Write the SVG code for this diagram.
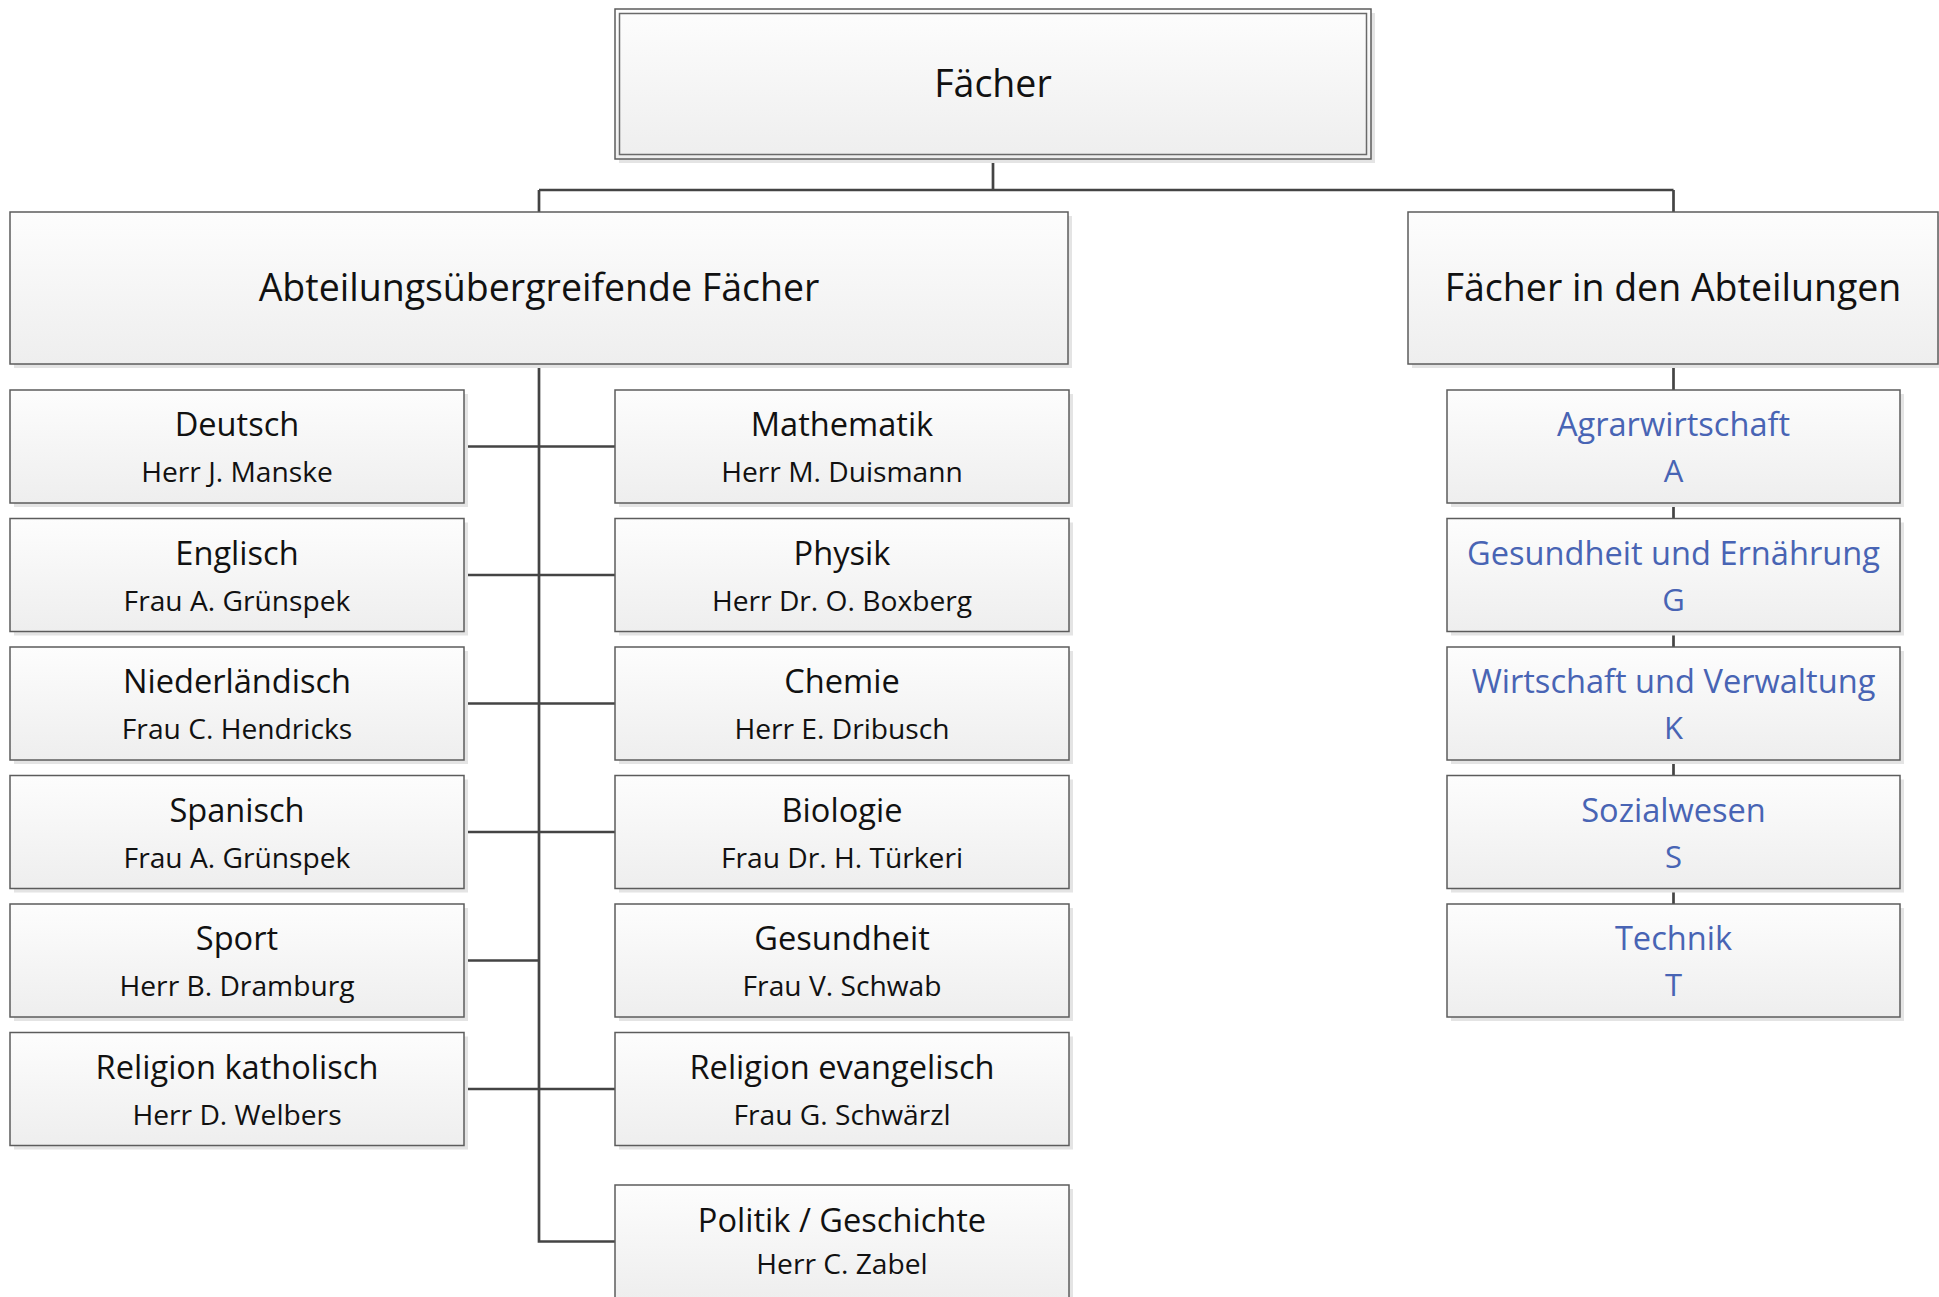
<svg xmlns="http://www.w3.org/2000/svg" width="1939" height="1297" viewBox="0 0 1939 1297">
<defs>
<linearGradient id="g" x1="0" y1="0" x2="0" y2="1">
<stop offset="0" stop-color="#fdfdfd"/>
<stop offset="1" stop-color="#eeeeee"/>
</linearGradient>
</defs>
<style>
.sh{fill:#e4e4e4}
.box{fill:url(#g);stroke:#5c5c5c;stroke-width:1.5}
.dbl{fill:none;stroke:#6a6a6a;stroke-width:1.5}
.c{fill:none;stroke:#444;stroke-width:2.7}
text{font-family:"Open Sans","Noto Sans","DejaVu Sans",sans-serif;text-anchor:middle;fill:#111}
.h{font-size:37.5px}
.t{font-size:32.6px}
.s{font-size:28.2px}
.b{fill:#4864b4}
.bs{font-size:31px}
</style>
<rect width="1939" height="1297" fill="#fff"/>
<g id="connectors">
<path class="c" d="M993 159V190M539 190H1673.5M539 190V212M1673.5 190V212"/>
<path class="c" d="M539 364V1241.5H615"/>
<path class="c" d="M464 446.5H615M464 575H615M464 703.5H615M464 832H615M464 960.5H539M464 1089H615"/>
<path class="c" d="M1673.5 364V390M1673.5 503V518.5M1673.5 631.5V647M1673.5 760V775.5M1673.5 888.5V904"/>
</g>
<g id="faecher">
<rect class="sh" x="619" y="13" width="756" height="150"/>
<rect class="box" x="615" y="9" width="756" height="150"/>
<rect class="dbl" x="619.5" y="13.5" width="747" height="141"/>
<text class="h" x="993" y="97">Fächer</text>
</g>
<g id="abteilungsuebergreifend">
<rect class="sh" x="14" y="216" width="1058" height="152"/>
<rect class="box" x="10" y="212" width="1058" height="152"/>
<text class="h" x="539" y="301">Abteilungsübergreifende Fächer</text>
</g>
<g id="abteilungen">
<rect class="sh" x="1412" y="216" width="530" height="152"/>
<rect class="box" x="1408" y="212" width="530" height="152"/>
<text class="h" x="1673" y="301">Fächer in den Abteilungen</text>
</g>
<g id="deutsch">
<rect class="sh" x="14" y="394" width="454" height="113"/>
<rect class="box" x="10" y="390" width="454" height="113"/>
<text class="t" x="237" y="436">Deutsch</text>
<text class="s" x="237" y="482">Herr J. Manske</text>
</g>
<g id="englisch">
<rect class="sh" x="14" y="522.5" width="454" height="113"/>
<rect class="box" x="10" y="518.5" width="454" height="113"/>
<text class="t" x="237" y="564.5">Englisch</text>
<text class="s" x="237" y="610.5">Frau A. Grünspek</text>
</g>
<g id="niederlaendisch">
<rect class="sh" x="14" y="651" width="454" height="113"/>
<rect class="box" x="10" y="647" width="454" height="113"/>
<text class="t" x="237" y="693">Niederländisch</text>
<text class="s" x="237" y="739">Frau C. Hendricks</text>
</g>
<g id="spanisch">
<rect class="sh" x="14" y="779.5" width="454" height="113"/>
<rect class="box" x="10" y="775.5" width="454" height="113"/>
<text class="t" x="237" y="821.5">Spanisch</text>
<text class="s" x="237" y="867.5">Frau A. Grünspek</text>
</g>
<g id="sport">
<rect class="sh" x="14" y="908" width="454" height="113"/>
<rect class="box" x="10" y="904" width="454" height="113"/>
<text class="t" x="237" y="950">Sport</text>
<text class="s" x="237" y="996">Herr B. Dramburg</text>
</g>
<g id="religion-katholisch">
<rect class="sh" x="14" y="1036.5" width="454" height="113"/>
<rect class="box" x="10" y="1032.5" width="454" height="113"/>
<text class="t" x="237" y="1078.5">Religion katholisch</text>
<text class="s" x="237" y="1124.5">Herr D. Welbers</text>
</g>
<g id="mathematik">
<rect class="sh" x="619" y="394" width="454" height="113"/>
<rect class="box" x="615" y="390" width="454" height="113"/>
<text class="t" x="842" y="436">Mathematik</text>
<text class="s" x="842" y="482">Herr M. Duismann</text>
</g>
<g id="physik">
<rect class="sh" x="619" y="522.5" width="454" height="113"/>
<rect class="box" x="615" y="518.5" width="454" height="113"/>
<text class="t" x="842" y="564.5">Physik</text>
<text class="s" x="842" y="610.5">Herr Dr. O. Boxberg</text>
</g>
<g id="chemie">
<rect class="sh" x="619" y="651" width="454" height="113"/>
<rect class="box" x="615" y="647" width="454" height="113"/>
<text class="t" x="842" y="693">Chemie</text>
<text class="s" x="842" y="739">Herr E. Dribusch</text>
</g>
<g id="biologie">
<rect class="sh" x="619" y="779.5" width="454" height="113"/>
<rect class="box" x="615" y="775.5" width="454" height="113"/>
<text class="t" x="842" y="821.5">Biologie</text>
<text class="s" x="842" y="867.5">Frau Dr. H. Türkeri</text>
</g>
<g id="gesundheit">
<rect class="sh" x="619" y="908" width="454" height="113"/>
<rect class="box" x="615" y="904" width="454" height="113"/>
<text class="t" x="842" y="950">Gesundheit</text>
<text class="s" x="842" y="996">Frau V. Schwab</text>
</g>
<g id="religion-evangelisch">
<rect class="sh" x="619" y="1036.5" width="454" height="113"/>
<rect class="box" x="615" y="1032.5" width="454" height="113"/>
<text class="t" x="842" y="1078.5">Religion evangelisch</text>
<text class="s" x="842" y="1124.5">Frau G. Schwärzl</text>
</g>
<g id="politik">
<rect class="sh" x="619" y="1189" width="454" height="113"/>
<rect class="box" x="615" y="1185" width="454" height="113"/>
<text class="t" x="842" y="1232">Politik / Geschichte</text>
<text class="s" x="842" y="1274">Herr C. Zabel</text>
</g>
<g id="agrarwirtschaft">
<rect class="sh" x="1451" y="394" width="453" height="113"/>
<rect class="box" x="1447" y="390" width="453" height="113"/>
<text class="t b" x="1673.5" y="436">Agrarwirtschaft</text>
<text class="b bs" x="1673.5" y="482">A</text>
</g>
<g id="gesundheit-ernaehrung">
<rect class="sh" x="1451" y="522.5" width="453" height="113"/>
<rect class="box" x="1447" y="518.5" width="453" height="113"/>
<text class="t b" x="1673.5" y="564.5">Gesundheit und Ernährung</text>
<text class="b bs" x="1673.5" y="610.5">G</text>
</g>
<g id="wirtschaft-verwaltung">
<rect class="sh" x="1451" y="651" width="453" height="113"/>
<rect class="box" x="1447" y="647" width="453" height="113"/>
<text class="t b" x="1673.5" y="693">Wirtschaft und Verwaltung</text>
<text class="b bs" x="1673.5" y="739">K</text>
</g>
<g id="sozialwesen">
<rect class="sh" x="1451" y="779.5" width="453" height="113"/>
<rect class="box" x="1447" y="775.5" width="453" height="113"/>
<text class="t b" x="1673.5" y="821.5">Sozialwesen</text>
<text class="b bs" x="1673.5" y="867.5">S</text>
</g>
<g id="technik">
<rect class="sh" x="1451" y="908" width="453" height="113"/>
<rect class="box" x="1447" y="904" width="453" height="113"/>
<text class="t b" x="1673.5" y="950">Technik</text>
<text class="b bs" x="1673.5" y="996">T</text>
</g>
</svg>
